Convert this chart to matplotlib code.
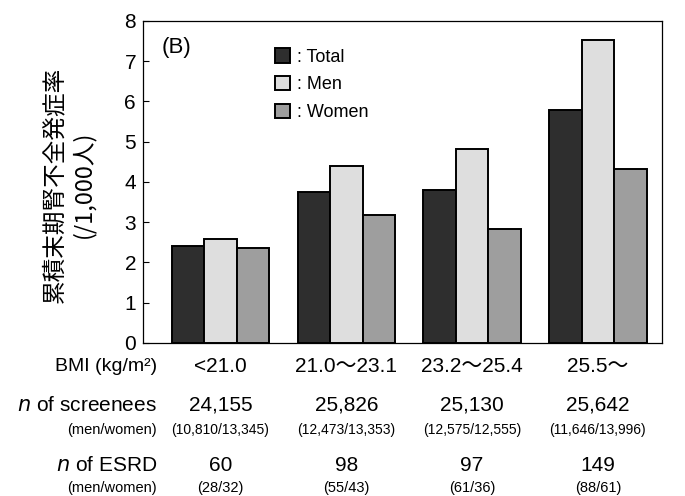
import matplotlib
matplotlib.use("Agg")
import matplotlib.pyplot as plt
import matplotlib.transforms as mtransforms
import numpy as np

plt.rcParams['font.family'] = ['Liberation Sans', 'Noto Sans CJK JP', 'DejaVu Sans']

categories = ["<21.0", "21.0～23.1", "23.2～25.4", "25.5～"]
total = [2.42, 3.75, 3.79, 5.80]
men = [2.58, 4.39, 4.81, 7.52]
women = [2.37, 3.18, 2.83, 4.32]
screenees = ["24,155", "25,826", "25,130", "25,642"]
screenees_mw = ["(10,810/13,345)", "(12,473/13,353)", "(12,575/12,555)", "(11,646/13,996)"]
esrd = ["60", "98", "97", "149"]
esrd_mw = ["(28/32)", "(55/43)", "(61/36)", "(88/61)"]
series_names = [": Total", ": Men", ": Women"]
series_colors = ["#2e2e2e", "#dedede", "#9e9e9e"]
yticks = [0, 1, 2, 3, 4, 5, 6, 7, 8]

fig = plt.figure(figsize=(6.85, 4.96), dpi=100)
ax = fig.add_axes([0.2088, 0.3085, 0.7576, 0.6492])

x = np.arange(len(categories))
w = 0.258
for i, (vals, name, col) in enumerate(zip([total, men, women], series_names, series_colors)):
    ax.bar(x + (i - 1) * w, vals, width=w, color=col, edgecolor="black",
           linewidth=1.4, label=name, zorder=2)

ax.set_xlim(-0.616, 3.51)
ax.set_ylim(0, 8)
ax.set_yticks(yticks)
ax.set_yticklabels([str(t) for t in yticks], fontsize=15)
ax.set_xticks([])
ax.tick_params(axis='y', direction='in', length=4, width=0.8, pad=5)
for s in ax.spines.values():
    s.set_linewidth(0.9)

ax.text(0.036, 0.919, "(B)", transform=ax.transAxes, fontsize=16, va="center", ha="left")

leg = ax.legend(loc="upper left", bbox_to_anchor=(0.254, 0.915), frameon=False,
                fontsize=13, handlelength=0.83, handleheight=0.83, handletextpad=0.4,
                labelspacing=0.57, borderpad=0, borderaxespad=0)

# y label (two lines)
fig.text(0.080, 0.628, "累積末期腎不全発症率", rotation=90, fontsize=17,
         ha="center", va="center", family=['Noto Sans CJK JP'])
fig.text(0.122, 0.628, "(/1,000人)", rotation=90, fontsize=17,
         ha="center", va="center", family=['Noto Sans CJK JP'])

# table below
trans = mtransforms.blended_transform_factory(ax.transData, fig.transFigure)
lx = 157 / 685
rows_y = [0.262, 0.183, 0.134, 0.062, 0.016]
small = 10.5
fig.text(lx, rows_y[0], "BMI (kg/m²)", fontsize=14, ha="right", va="center")
fig.text(lx, rows_y[1], "$\\it{n}$ of screenees", fontsize=15, ha="right", va="center")
fig.text(lx, rows_y[2], "(men/women)", fontsize=small, ha="right", va="center")
fig.text(lx, rows_y[3], "$\\it{n}$ of ESRD", fontsize=15, ha="right", va="center")
fig.text(lx, rows_y[4], "(men/women)", fontsize=small, ha="right", va="center")

for xi, c, s, smw, e, emw in zip(x, categories, screenees, screenees_mw, esrd, esrd_mw):
    ax.text(xi, rows_y[0], c, transform=trans, fontsize=15, ha="center", va="center")
    ax.text(xi, rows_y[1], s, transform=trans, fontsize=15, ha="center", va="center")
    ax.text(xi, rows_y[2], smw, transform=trans, fontsize=10, ha="center", va="center")
    ax.text(xi, rows_y[3], e, transform=trans, fontsize=15, ha="center", va="center")
    ax.text(xi, rows_y[4], emw, transform=trans, fontsize=small, ha="center", va="center")

fig.savefig("out.png", dpi=100)
